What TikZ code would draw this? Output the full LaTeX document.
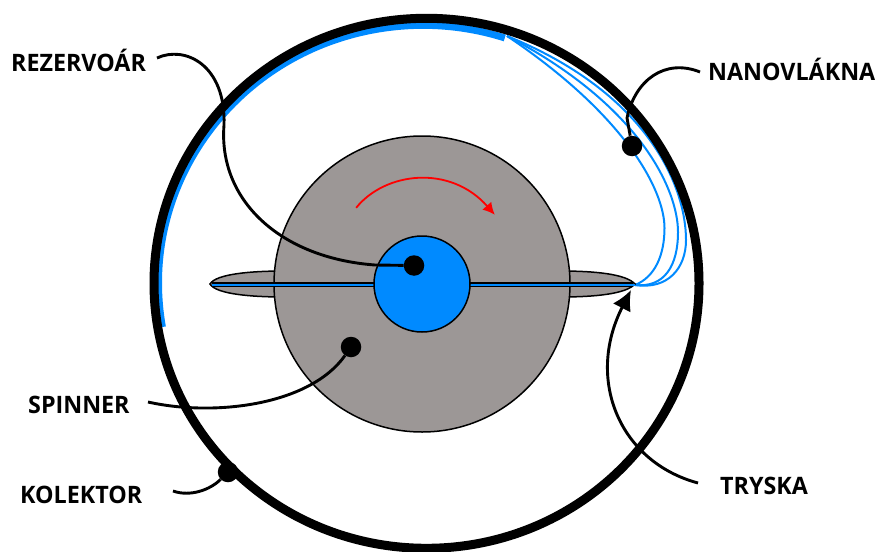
\documentclass[tikz,border=0pt]{standalone}
\usepackage{fontspec}
\setmainfont[FakeStretch=0.97]{Open Sans}
\usetikzlibrary{arrows.meta}
\definecolor{spin}{RGB}{156,151,150}
\definecolor{fib}{RGB}{0,138,255}
\tikzset{
 lbl/.style={font=\fontsize{24}{28}\selectfont\bfseries,inner sep=0pt,text=black,anchor=base west},
 dotn/.style={circle,fill=black,inner sep=0pt,minimum size=20.5pt},
 lead/.style={draw=black,line width=2.9pt},
 fibre/.style={draw=fib,line width=2pt},
}
\begin{document}
\begin{tikzpicture}[x=1pt,y=-1pt]
\useasboundingbox (0,0) rectangle (877,551);
\clip (0,0) rectangle (877,551);
% nodes
\node[lbl] (rez) at (11,71) {REZERVOÁR};
\node[lbl] (nano) at (708,81) {NANOVLÁKNA};
\node[lbl] (spi) at (28,413) {SPINNER};
\node[lbl] (kol) at (20,503) {KOLEKTOR};
\node[lbl] (try) at (720,494) {TRYSKA};
% fibres
\coordinate (tip) at (635,285);
\coordinate (fibend) at (507,36);
\draw[fibre] (tip) .. controls (655,277) and (664.5,255) .. (664.5,228) .. controls (664.5,190) and (625,115) .. (fibend);
\draw[fibre] (tip) .. controls (665,288) and (678,265) .. (678,232) .. controls (678,190) and (640,105) .. (fibend);
\draw[fibre] (tip) .. controls (668,290) and (686,268) .. (686,240) .. controls (686,190) and (652,95) .. (fibend);
% collector coat
\draw[draw=fib,line width=7pt] (162.4,327) arc [start angle=170.2,end angle=288,x radius=264.5,y radius=257.8];
% collector
\draw[draw=black,line width=9pt] (426.5,283.3) ellipse [x radius=272.5,y radius=265];
% spinner
\draw[fill=spin,draw=black,line width=1.5pt] (210,284) .. controls (216,274) and (250,271) .. (285,271) -- (285,297) .. controls (250,297) and (216,294) .. (210,284) -- cycle;
\draw[fill=spin,draw=black,line width=1.5pt] (635,284) .. controls (626,274) and (595,271) .. (560,271) -- (560,297) .. controls (595,297) and (626,294) .. (635,284) -- cycle;
\draw[fill=spin,draw=black,line width=1.5pt] (422,284) circle [radius=148];
\draw[draw=black,line width=5pt] (212,284.5) -- (633,284.5);
\draw[draw=fib,line width=2pt] (212,284.5) -- (635,284.5);
\node[circle,fill=fib,draw=black,line width=1.5pt,minimum size=96pt,inner sep=0pt] (res) at (422,284) {};
% rotation arrow
\node[inner sep=0,minimum size=0pt] (rs) at (356,208) {};
\node[inner sep=0,minimum size=0pt] (re) at (495,215) {};
\draw[draw=red,line width=1.8pt,-{Latex[length=12pt,width=12pt]}] (rs) .. controls (385,172) and (450,164) .. (re);
% dots
\node[dotn] (d1) at (414,265.5) {};
\node[dotn] (d2) at (632,146) {};
\node[dotn] (d3) at (351,347) {};
\node[dotn] (d4) at (228,472) {};
% leaders
\draw[lead] (157,58) .. controls (185,45) and (226,65) .. (224,125) .. controls (218,200) and (280,258) .. (375,265) -- (d1);
\draw[lead] (d2) -- (627,118) .. controls (635,80) and (665,58) .. (700,72);
\draw[lead] (148,402) .. controls (215,417) and (310,405) .. (d3);
\draw[lead] (173,491) .. controls (190,497) and (210,490) .. (d4);
\coordinate (tryend) at (698,483);
\draw[lead,-{Latex[length=20pt,width=20pt]}] (tryend) .. controls (620,462) and (585,380) .. (631,290);
\end{tikzpicture}
\end{document}
